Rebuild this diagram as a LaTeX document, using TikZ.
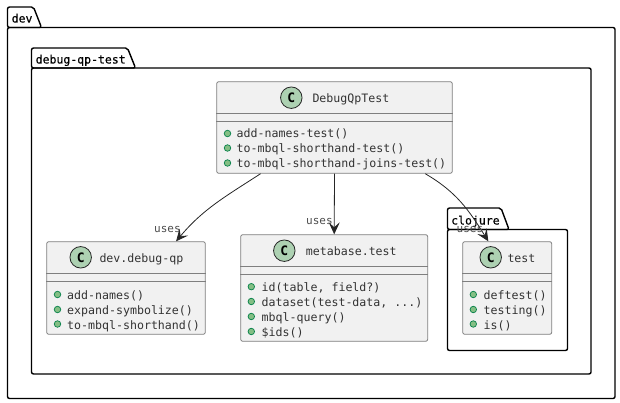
\documentclass[tikz,border=0pt]{standalone}
\usepackage{fontspec}
\setmainfont{DejaVu Sans Mono}
\newfontfamily\pkgfont[FakeBold=0.4]{DejaVu Sans Mono}
\usepackage{tikz}
\usetikzlibrary{positioning,arrows.meta}
\definecolor{clsfill}{HTML}{F1F1F1}
\definecolor{clsedge}{HTML}{7F7F7F}
\definecolor{spot}{HTML}{ADD1B2}
\definecolor{dotfill}{HTML}{84BE84}
\definecolor{dotedge}{HTML}{038048}
\definecolor{inkc}{HTML}{333333}

\begin{document}
\begin{tikzpicture}[
      x=1pt, y=-1pt,
      pkg/.style    = {draw=black, line width=1.4pt, rounded corners=2pt},
      pkgname/.style = {anchor=base west, inner sep=0pt, font=\pkgfont\fontsize{11.5}{12}\selectfont, text=black},
      clsbox/.style = {rectangle, rounded corners=2pt, draw=clsedge, fill=clsfill, line width=0.8pt, inner sep=0pt},
      clsline/.style = {draw=clsedge, line width=0.8pt},
      cspot/.style  = {circle, draw=black!85, fill=spot, line width=0.8pt, minimum size=21.5pt, inner sep=0pt,
                       font=\fontsize{13}{13}\bfseries\selectfont, text=black},
      ctitle/.style = {anchor=base west, inner sep=0pt, font=\fontsize{11.6}{12}\selectfont, text=inkc},
      mdot/.style   = {circle, draw=dotedge, fill=dotfill, line width=0.7pt, minimum size=6.5pt, inner sep=0pt},
      mtext/.style  = {anchor=base west, inner sep=0pt, font=\fontsize{11.6}{12}\selectfont, text=inkc},
      uses/.style   = {-{Stealth[length=12pt, width=11pt, inset=5pt]}, draw=black!85, line width=0.8pt},
      el/.style     = {anchor=base west, inner sep=0pt, font=\fontsize{11}{12}\selectfont, text=black!70},
    ]
    \useasboundingbox (0,0) rectangle (620,403);

    %% ------------------------------------------------ packages
    \draw[pkg] (7.5,27.5) -- (7.5,7) -- (33.5,7) -- (41.5,27.5) -- cycle;
    \draw[pkg] (7.5,27.5) -- (615,27.5) -- (615,398.5) -- (7.5,398.5) -- cycle;
    \node[pkgname] (devname) at (11.5,22.5) {dev};

    \draw[pkg] (31.5,68) -- (31.5,48) -- (127.5,48) -- (135.5,68) -- cycle;
    \draw[pkg] (31.5,68) -- (591,68) -- (591,374) -- (31.5,374) -- cycle;
    \node[pkgname] (dbgname) at (35.5,63.5) {debug-qp-test};

    \draw[pkg] (447.5,229.5) -- (447.5,208) -- (501,208) -- (509,229.5) -- cycle;
    \draw[pkg] (447.5,229.5) -- (567.5,229.5) -- (567.5,350.5) -- (447.5,350.5) -- cycle;
    \node[pkgname] (cljname) at (451,224.5) {clojure};

    %% ------------------------------------------------ class DebugQpTest
    \node[clsbox, minimum width=235.6pt, minimum height=91.6pt] (dqt) at (334.5,127.5) {};
    \draw[clsline] (dqt.west |- 0,113.3) -- (dqt.east |- 0,113.3);
    \draw[clsline] (dqt.west |- 0,121.7) -- (dqt.east |- 0,121.7);
    \node[cspot] (dqtc) at (291.3,97.7) {C};
    \node[ctitle] (dqtt) at (312.3,102.5) {DebugQpTest};
    \node[mdot] (dqt1) at (227.5,133.5) {};
    \node[mdot] (dqt2) at (227.5,148) {};
    \node[mdot] (dqt3) at (227.5,163) {};
    \node[mtext] (dqtm1) at (236.5,138) {add-names-test()};
    \node[mtext] (dqtm2) at (236.5,153) {to-mbql-shorthand-test()};
    \node[mtext] (dqtm3) at (236.5,168) {to-mbql-shorthand-joins-test()};

    %% ------------------------------------------------ class dev.debug-qp
    \node[clsbox, minimum width=158.6pt, minimum height=92.6pt] (dq) at (126,288) {};
    \draw[clsline] (dq.west |- 0,273.3) -- (dq.east |- 0,273.3);
    \draw[clsline] (dq.west |- 0,281.3) -- (dq.east |- 0,281.3);
    \node[cspot] (dqc) at (80.7,257.3) {C};
    \node[ctitle] (dqt0) at (99.3,262.5) {dev.debug-qp};
    \node[mdot] (dq1) at (57.5,294.5) {};
    \node[mdot] (dq2) at (57.5,309.5) {};
    \node[mdot] (dq3) at (57.5,324) {};
    \node[mtext] (dqm1) at (67,299.5) {add-names()};
    \node[mtext] (dqm2) at (67,314) {expand-symbolize()};
    \node[mtext] (dqm3) at (67,329) {to-mbql-shorthand()};

    %% ------------------------------------------------ class metabase.test
    \node[clsbox, minimum width=187pt, minimum height=106.6pt] (mt) at (334.2,288) {};
    \draw[clsline] (mt.west |- 0,266.7) -- (mt.east |- 0,266.7);
    \draw[clsline] (mt.west |- 0,274.7) -- (mt.east |- 0,274.7);
    \node[cspot] (mtc) at (284.3,250.7) {C};
    \node[ctitle] (mtt) at (305.7,255.5) {metabase.test};
    \node[mdot] (mt1) at (251.3,286.7) {};
    \node[mdot] (mt2) at (251.3,301.5) {};
    \node[mdot] (mt3) at (251.3,316.5) {};
    \node[mdot] (mt4) at (251.3,331.5) {};
    \node[mtext] (mtm1) at (261.5,291.5) {id(table, field?)};
    \node[mtext] (mtm2) at (261.5,306.5) {dataset(test-data, ...)};
    \node[mtext] (mtm3) at (261.5,321.5) {mbql-query()};
    \node[mtext] (mtm4) at (261.5,336.5) {\$ids()};

    %% ------------------------------------------------ class test
    \node[clsbox, minimum width=89pt, minimum height=92.6pt] (ts) at (507.2,288) {};
    \draw[clsline] (ts.west |- 0,273.3) -- (ts.east |- 0,273.3);
    \draw[clsline] (ts.west |- 0,281.3) -- (ts.east |- 0,281.3);
    \node[cspot] (tsc) at (490.7,257.3) {C};
    \node[ctitle] (tst) at (507.3,262.5) {test};
    \node[mdot] (ts1) at (473.3,294.5) {};
    \node[mdot] (ts2) at (473.3,309.5) {};
    \node[mdot] (ts3) at (473.3,324) {};
    \node[mtext] (tsm1) at (483.5,299.5) {deftest()};
    \node[mtext] (tsm2) at (483.5,314) {testing()};
    \node[mtext] (tsm3) at (483.5,329) {is()};

    %% ------------------------------------------------ dependencies
    \draw[uses] (dqt.212.4) to[out=-147, in=50] (dq.43.5);
    \draw[uses] (dqt.south) -- (mt.north);
    \draw[uses] (dqt.-27.5) to[out=-30, in=122] (ts.112.4);
    \node[el] (uses1) at (154,232) {uses};
    \node[el] (uses2) at (306,224) {uses};
    \node[el] (uses3) at (456.5,232) {uses};
  \end{tikzpicture}
\end{document}
